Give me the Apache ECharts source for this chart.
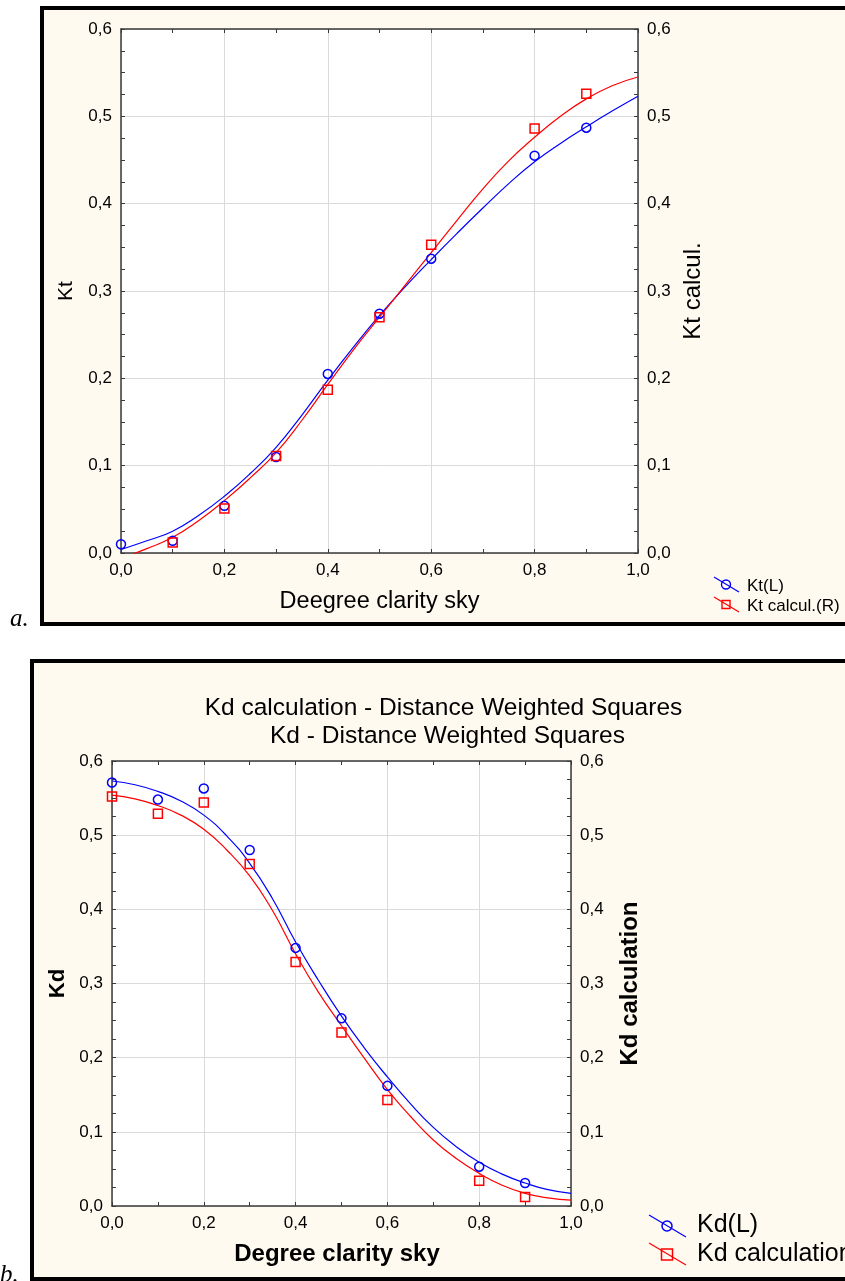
<!DOCTYPE html>
<html><head><meta charset="utf-8">
<script src="https://cdn.jsdelivr.net/npm/echarts@6/dist/echarts.min.js"></script>
<style>html,body{margin:0;padding:0;background:#fff;overflow:hidden}#c{width:845px;height:1281px}</style>
</head><body><div id="c"></div>
<script>
// ---------- data ----------
const xTickLabels = ['0,0', '0,2', '0,4', '0,6', '0,8', '1,0'];
const yTickLabels = ['0,0', '0,1', '0,2', '0,3', '0,4', '0,5', '0,6'];

// measured points
const xPts = [0.0, 0.1, 0.2, 0.3, 0.4, 0.5, 0.6, 0.8, 0.9];
const ktL = [0.010, 0.014, 0.054, 0.110, 0.205, 0.274, 0.337, 0.455, 0.487];
const ktR = [null, 0.012, 0.051, 0.111, 0.187, 0.270, 0.353, 0.486, 0.526];
const kdL = [0.571, 0.548, 0.563, 0.480, 0.348, 0.253, 0.162, 0.053, 0.031];
const kdR = [0.552, 0.529, 0.544, 0.461, 0.329, 0.234, 0.143, 0.034, 0.012];

// fitted curves (distance weighted least squares)
const xFit = [0, 0.05, 0.1, 0.15, 0.2, 0.25, 0.3, 0.35, 0.4, 0.45, 0.5, 0.55, 0.6, 0.65, 0.7, 0.75, 0.8, 0.85, 0.9, 0.95, 1.0];
const ktLFit = [0.004, 0.014, 0.025, 0.043, 0.065, 0.091, 0.121, 0.158, 0.198, 0.236, 0.272, 0.305, 0.336, 0.366, 0.395, 0.423, 0.448, 0.469, 0.488, 0.506, 0.523];
const ktRFit = [-0.006, 0.005, 0.018, 0.037, 0.060, 0.086, 0.115, 0.152, 0.193, 0.233, 0.270, 0.307, 0.344, 0.381, 0.417, 0.449, 0.476, 0.500, 0.520, 0.535, 0.545];
const kdLFit = [0.573, 0.568, 0.559, 0.546, 0.527, 0.499, 0.462, 0.414, 0.356, 0.304, 0.256, 0.213, 0.174, 0.138, 0.106, 0.080, 0.059, 0.043, 0.031, 0.022, 0.017];
const kdRFit = [0.554, 0.549, 0.540, 0.527, 0.508, 0.480, 0.445, 0.398, 0.340, 0.288, 0.243, 0.199, 0.157, 0.121, 0.089, 0.064, 0.044, 0.028, 0.017, 0.011, 0.008];

// ---------- styling ----------
const FONT = "'Liberation Sans', Arial, sans-serif";
const AX = '#3a3a3a';
const BLUE = '#0000ff';
const RED = '#ff0000';
const BG = '#fffaf0';
function tick() { return { show: true, inside: true, length: 4, lineStyle: { color: AX, width: 1 } }; }

function pairs(xs, ys) { return xs.map((x, i) => [x, ys[i]]).filter(p => p[1] !== null); }

function xMain(grid, name, nameOpt) {
  return {
    type: 'value', gridIndex: grid, position: 'bottom', min: 0, max: 1, interval: 0.2,
    axisLine: { show: true, onZero: false, lineStyle: { color: AX, width: 1.5 } },
    axisTick: { show: false },
    splitLine: { show: true, lineStyle: { color: '#dadada', width: 1 } },
    axisLabel: { show: true, color: '#000', fontSize: 17, fontFamily: FONT, margin: 9,
      formatter: v => xTickLabels[Math.round(v * 5)] },
    name: name, nameLocation: 'middle', nameGap: nameOpt.gap,
    nameTextStyle: { color: '#000', fontSize: nameOpt.size, fontFamily: FONT, fontWeight: nameOpt.weight,
      padding: nameOpt.pad || 0 }
  };
}
function xTicks(grid, pos, line) {
  return {
    type: 'value', gridIndex: grid, position: pos, min: 0, max: 1, interval: 0.1,
    axisLine: { show: line, onZero: false, lineStyle: { color: AX, width: 1.5 } },
    axisTick: tick(), axisLabel: { show: false }, splitLine: { show: false }
  };
}
function yMain(grid, pos, name, nameOpt) {
  return {
    type: 'value', gridIndex: grid, position: pos, min: 0, max: 0.6, interval: 0.1,
    axisLine: { show: true, onZero: false, lineStyle: { color: AX, width: 1.5 } },
    axisTick: { show: false },
    splitLine: { show: pos === 'left', lineStyle: { color: '#dadada', width: 1 } },
    axisLabel: { show: true, color: '#000', fontSize: 17, fontFamily: FONT, margin: 9,
      formatter: v => yTickLabels[Math.round(v * 10)] },
    name: name, nameLocation: 'middle', nameRotate: 90, nameGap: nameOpt.gap,
    nameTextStyle: { color: '#000', fontSize: nameOpt.size, fontFamily: FONT, fontWeight: nameOpt.weight }
  };
}
function yTicks(grid, pos) {
  return {
    type: 'value', gridIndex: grid, position: pos, min: 0, max: 0.6, interval: 0.025,
    axisLine: { show: false, onZero: false }, axisTick: tick(), axisLabel: { show: false }, splitLine: { show: false }
  };
}
function fit(xi, yi, ys, color) {
  return { type: 'line', xAxisIndex: xi, yAxisIndex: yi, data: pairs(xFit, ys), showSymbol: false,
    smooth: true, clip: true, silent: true,
    lineStyle: { color: color, width: 1.2 }, z: 3 };
}
function pts(xi, yi, ys, color, sym) {
  return { type: 'scatter', xAxisIndex: xi, yAxisIndex: yi, data: pairs(xPts, ys), symbol: sym,
    symbolSize: 9, clip: true, silent: true,
    itemStyle: { color: 'rgba(0,0,0,0)', borderColor: color, borderWidth: 1.5, opacity: 1 }, z: 4 };
}

const chart = echarts.init(document.getElementById('c'), null, { renderer: 'canvas' });
chart.setOption({
  animation: false,
  backgroundColor: '#ffffff',
  grid: [
    { left: 121, top: 29, width: 517, height: 524, show: true, backgroundColor: '#ffffff', borderWidth: 0 },
    { left: 112, top: 761, width: 459, height: 445, show: true, backgroundColor: '#ffffff', borderWidth: 0 }
  ],
  xAxis: [
    xMain(0, 'Deegree clarity sky', { gap: 37, size: 23.5, weight: 'normal' }),  // 0
    xTicks(0, 'bottom', false),                                               // 1
    xTicks(0, 'top', true),                                                   // 2
    xMain(1, 'Degree clarity sky', { gap: 36, size: 24, weight: 'bold', pad: [0, 9, 0, 0] }), // 3
    xTicks(1, 'bottom', false),                                               // 4
    xTicks(1, 'top', true)                                                    // 5
  ],
  yAxis: [
    yMain(0, 'left', 'Kt', { gap: 44, size: 21, weight: 'normal' }),          // 0
    yMain(0, 'right', 'Kt calcul.', { gap: 43, size: 24, weight: 'normal' }), // 1
    yTicks(0, 'left'),                                                        // 2
    yTicks(0, 'right'),                                                       // 3
    yMain(1, 'left', 'Kd', { gap: 43, size: 22, weight: 'bold' }),            // 4
    yMain(1, 'right', 'Kd calculation', { gap: 47, size: 24, weight: 'bold' }), // 5
    yTicks(1, 'left'),                                                        // 6
    yTicks(1, 'right')                                                        // 7
  ],
  series: [
    fit(0, 0, ktLFit, BLUE), fit(0, 1, ktRFit, RED),
    pts(0, 0, ktL, BLUE, 'circle'), pts(0, 1, ktR, RED, 'rect'),
    fit(3, 4, kdLFit, BLUE), fit(3, 5, kdRFit, RED),
    pts(3, 4, kdL, BLUE, 'circle'), pts(3, 5, kdR, RED, 'rect')
  ],
  graphic: [
    // panel frames
    { type: 'rect', z: -10, silent: true, shape: { x: 42, y: 8, width: 900, height: 616 },
      style: { fill: BG, stroke: '#000', lineWidth: 4 } },
    { type: 'rect', z: -10, silent: true, shape: { x: 32, y: 661, width: 900, height: 618 },
      style: { fill: BG, stroke: '#000', lineWidth: 4 } },
    // panel letters
    { type: 'text', z: 10, style: { text: 'a.', x: 10, y: 632, textVerticalAlign: 'bottom',
      font: "italic 25px 'Liberation Serif', 'Times New Roman', serif", fill: '#000' } },
    { type: 'text', z: 10, style: { text: 'b.', x: 0, y: 1288, textVerticalAlign: 'bottom',
      font: "italic 25px 'Liberation Serif', 'Times New Roman', serif", fill: '#000' } },
    // title panel b
    { type: 'text', z: 10, style: { text: 'Kd calculation - Distance Weighted Squares', x: 443.5, y: 708,
      textAlign: 'center', textVerticalAlign: 'middle', font: "24.5px 'Liberation Sans', Arial, sans-serif", fill: '#000' } },
    { type: 'text', z: 10, style: { text: 'Kd - Distance Weighted Squares', x: 447.5, y: 736,
      textAlign: 'center', textVerticalAlign: 'middle', font: "24.5px 'Liberation Sans', Arial, sans-serif", fill: '#000' } },
    // legend panel a
    { type: 'line', z: 10, shape: { x1: 714, y1: 577, x2: 739, y2: 592 }, style: { stroke: BLUE, lineWidth: 1.2 } },
    { type: 'circle', z: 10, shape: { cx: 726, cy: 584.5, r: 4.5 }, style: { fill: 'none', stroke: BLUE, lineWidth: 1.4 } },
    { type: 'text', z: 10, style: { text: 'Kt(L)', x: 747, y: 586, textVerticalAlign: 'middle',
      font: "17px 'Liberation Sans', Arial, sans-serif", fill: '#000' } },
    { type: 'line', z: 10, shape: { x1: 714, y1: 597, x2: 739, y2: 612 }, style: { stroke: RED, lineWidth: 1.2 } },
    { type: 'rect', z: 10, shape: { x: 722, y: 600.5, width: 8, height: 8 }, style: { fill: 'none', stroke: RED, lineWidth: 1.4 } },
    { type: 'text', z: 10, style: { text: 'Kt calcul.(R)', x: 747, y: 606, textVerticalAlign: 'middle',
      font: "17px 'Liberation Sans', Arial, sans-serif", fill: '#000' } },
    // legend panel b
    { type: 'line', z: 10, shape: { x1: 649, y1: 1215, x2: 686, y2: 1237 }, style: { stroke: BLUE, lineWidth: 1.2 } },
    { type: 'circle', z: 10, shape: { cx: 667, cy: 1226, r: 5 }, style: { fill: 'none', stroke: BLUE, lineWidth: 1.5 } },
    { type: 'text', z: 10, style: { text: 'Kd(L)', x: 697, y: 1225, textVerticalAlign: 'middle',
      font: "25px 'Liberation Sans', Arial, sans-serif", fill: '#000' } },
    { type: 'line', z: 10, shape: { x1: 649, y1: 1243, x2: 686, y2: 1265 }, style: { stroke: RED, lineWidth: 1.2 } },
    { type: 'rect', z: 10, shape: { x: 661.5, y: 1249, width: 11, height: 11 }, style: { fill: 'none', stroke: RED, lineWidth: 1.5 } },
    { type: 'text', z: 10, style: { text: 'Kd calculation', x: 697, y: 1254, textVerticalAlign: 'middle',
      font: "25px 'Liberation Sans', Arial, sans-serif", fill: '#000' } }
  ]
});
</script>
</body></html>
